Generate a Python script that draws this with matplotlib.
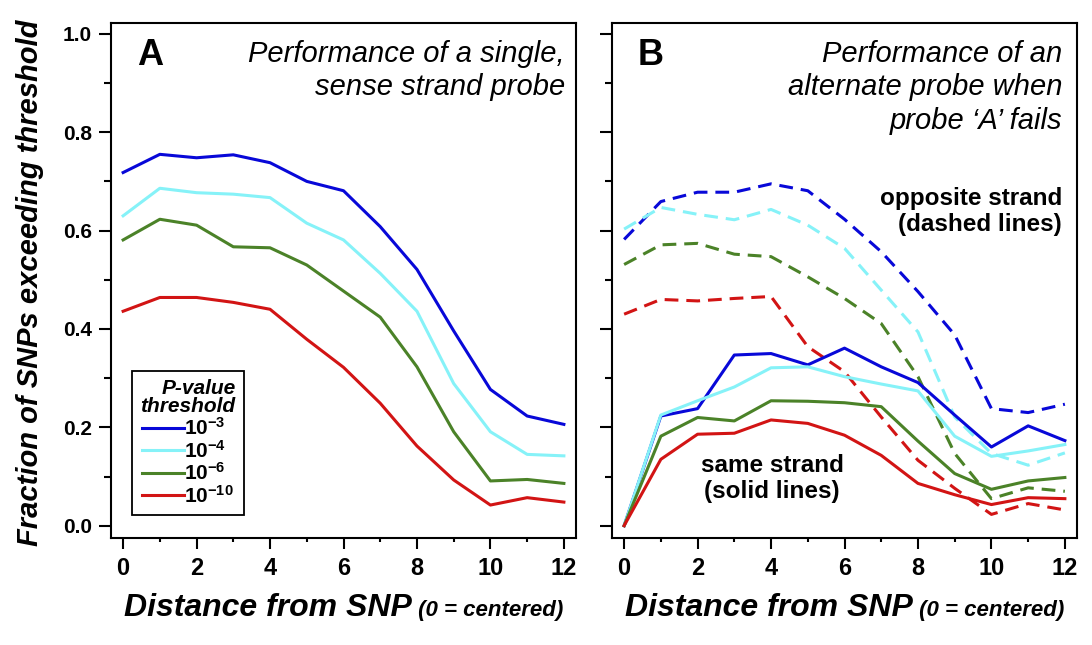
import matplotlib
matplotlib.use('Agg')
import matplotlib.pyplot as plt
from matplotlib import font_manager as fm

# ── fonts ───────────────────────────────────────────────────────
_names = {f.name for f in fm.fontManager.ttflist}
SANS = 'Liberation Sans'
NARROW = 'Liberation Sans Narrow' if 'Liberation Sans Narrow' in _names else SANS

plt.rcParams.update({
    'font.family': [SANS, 'DejaVu Sans'],
    'mathtext.fontset': 'custom',
    'mathtext.rm': f'{SANS}:bold',
    'mathtext.bf': f'{SANS}:bold',
    'mathtext.it': f'{SANS}:bold:italic',
    'mathtext.default': 'bf',
    'axes.linewidth': 1.5,
})

# ── data ────────────────────────────────────────────────────────
distance = list(range(13))
thresholds = [r'$10^{-3}$', r'$10^{-4}$', r'$10^{-6}$', r'$10^{-10}$']

# panel A: single sense strand probe
a_1e3 = [0.718, 0.755, 0.748, 0.754, 0.738, 0.700, 0.681, 0.608, 0.521, 0.396, 0.277, 0.223, 0.206]
a_1e4 = [0.630, 0.686, 0.677, 0.674, 0.667, 0.615, 0.581, 0.513, 0.436, 0.289, 0.191, 0.145, 0.142]
a_1e6 = [0.581, 0.623, 0.611, 0.567, 0.565, 0.530, 0.477, 0.424, 0.323, 0.191, 0.091, 0.094, 0.086]
a_1e10 = [0.436, 0.464, 0.464, 0.454, 0.440, 0.379, 0.322, 0.249, 0.162, 0.093, 0.042, 0.057, 0.048]

# panel B: opposite strand (dashed)
b_opp_1e3 = [0.582, 0.659, 0.678, 0.678, 0.695, 0.681, 0.623, 0.557, 0.476, 0.388, 0.238, 0.230, 0.247]
b_opp_1e4 = [0.603, 0.647, 0.633, 0.622, 0.643, 0.611, 0.564, 0.479, 0.394, 0.221, 0.147, 0.123, 0.148]
b_opp_1e6 = [0.531, 0.571, 0.574, 0.552, 0.547, 0.506, 0.462, 0.411, 0.303, 0.147, 0.055, 0.077, 0.070]
b_opp_1e10 = [0.430, 0.460, 0.457, 0.462, 0.466, 0.364, 0.313, 0.221, 0.133, 0.076, 0.023, 0.045, 0.032]

# panel B: same strand (solid)
b_same_1e3 = [0.0, 0.223, 0.238, 0.347, 0.350, 0.327, 0.361, 0.323, 0.291, 0.225, 0.160, 0.203, 0.173]
b_same_1e4 = [0.0, 0.225, 0.254, 0.282, 0.321, 0.323, 0.303, 0.288, 0.274, 0.182, 0.141, 0.152, 0.165]
b_same_1e6 = [0.0, 0.182, 0.220, 0.213, 0.254, 0.253, 0.250, 0.242, 0.172, 0.106, 0.074, 0.091, 0.098]
b_same_1e10 = [0.0, 0.135, 0.186, 0.188, 0.215, 0.208, 0.184, 0.143, 0.086, 0.063, 0.043, 0.057, 0.055]

# ── style ───────────────────────────────────────────────────────
COLORS = ['#0808d8', '#86f2f8', '#4b8228', '#d21414']
LW = 2.2
DASH = (4.5, 2.6)
FW, FH = 1092, 645

fig = plt.figure(figsize=(FW / 100, FH / 100), dpi=100)
axA = fig.add_axes([111 / FW, 1 - 538 / FH, 465 / FW, 515 / FH])
axB = fig.add_axes([612 / FW, 1 - 538 / FH, 465 / FW, 515 / FH])

for ax in (axA, axB):
    ax.set_xlim(-0.33, 12.33)
    ax.set_ylim(-0.025, 1.022)
    ax.set_xticks(range(0, 13, 2), labels=[str(v) for v in range(0, 13, 2)],
                  fontfamily=NARROW, fontweight='bold', fontsize=17)
    ax.set_xticks(range(13), minor=True)
    yt = [0.0, 0.2, 0.4, 0.6, 0.8, 1.0]
    ax.set_yticks(yt, labels=[f'{v:.1f}' for v in yt], fontweight='bold', fontsize=15)
    ax.set_yticks([0.1, 0.3, 0.5, 0.7, 0.9], minor=True)
    ax.tick_params(axis='x', which='major', length=8, width=1.5, pad=6)
    ax.tick_params(axis='x', which='minor', length=3, width=1.5)
    ax.tick_params(axis='y', which='major', length=8.5, width=1.5, pad=5)
    ax.tick_params(axis='y', which='minor', length=5, width=1.5)
axB.tick_params(axis='y', which='both', labelleft=False)

# ── panel A ─────────────────────────────────────────────────────
handles = []
for vals, col in zip([a_1e3, a_1e4, a_1e6, a_1e10], COLORS):
    h, = axA.plot(distance, vals, color=col, lw=LW)
    handles.append(h)

leg = axA.legend(handles, thresholds, title='P-value\nthreshold',
                 loc='lower left', bbox_to_anchor=(0.045, 0.045), borderaxespad=0,
                 fontsize=15, frameon=True, fancybox=False, framealpha=1,
                 edgecolor='black', handlelength=2.0, handletextpad=0,
                 labelspacing=0.03, borderpad=0.4)
leg.get_frame().set_linewidth(1.3)
ttl = leg.get_title()
ttl.set(fontsize=15, fontweight='bold', fontstyle='italic', multialignment='right',
        linespacing=0.95)

axA.text(0.056, 0.918, 'A', transform=axA.transAxes, fontsize=26, fontweight='bold',
         ha='left', va='baseline')
axA.text(0.976, 0.967, 'Performance of a single,\nsense strand probe',
         transform=axA.transAxes, family=NARROW, fontstyle='italic', fontsize=21,
         ha='right', va='top', linespacing=1.25)

# ── panel B ─────────────────────────────────────────────────────
for vals, col in zip([b_opp_1e3, b_opp_1e4, b_opp_1e6, b_opp_1e10], COLORS):
    axB.plot(distance, vals, color=col, lw=LW, dashes=DASH)
for vals, col in zip([b_same_1e3, b_same_1e4, b_same_1e6, b_same_1e10], COLORS):
    axB.plot(distance, vals, color=col, lw=LW)

axB.text(0.056, 0.918, 'B', transform=axB.transAxes, fontsize=26, fontweight='bold',
         ha='left', va='baseline')
axB.text(0.968, 0.967, "Performance of an\nalternate probe when\nprobe \u2018A\u2019 fails",
         transform=axB.transAxes, family=NARROW, fontstyle='italic', fontsize=21,
         ha='right', va='top', linespacing=1.25)
axB.text(0.968, 0.634, 'opposite strand\n(dashed lines)', transform=axB.transAxes,
         fontsize=17.5, fontweight='bold', ha='right', va='center', multialignment='right',
         linespacing=1.2)
axB.text(0.344, 0.1155, 'same strand\n(solid lines)', transform=axB.transAxes,
         fontsize=17.5, fontweight='bold', ha='center', va='center', linespacing=1.2)

# ── axis labels ─────────────────────────────────────────────────
fig.text(30 / FW, 1 - 283 / FH, 'Fraction of SNPs exceeding threshold', rotation=90,
         fontsize=21, fontweight='bold', fontstyle='italic', ha='center', va='center')

renderer = fig.canvas.get_renderer()
for ax in (axA, axB):
    pos = ax.get_position()
    cx = (pos.x0 + pos.x1) / 2
    yb = 1 - 616 / FH
    t1 = fig.text(0, yb, 'Distance from SNP', family=NARROW, fontweight='bold',
                  fontstyle='italic', fontsize=23, ha='left', va='baseline')
    t2 = fig.text(0, yb, ' (0 = centered)', family=NARROW, fontweight='bold',
                  fontstyle='italic', fontsize=16, ha='left', va='baseline')
    w1 = t1.get_window_extent(renderer).width / FW
    w2 = t2.get_window_extent(renderer).width / FW
    x0 = cx - (w1 + w2) / 2
    t1.set_x(x0)
    t2.set_x(x0 + w1)

fig.savefig('out.png', dpi=100, facecolor='white')
plt.close(fig)
